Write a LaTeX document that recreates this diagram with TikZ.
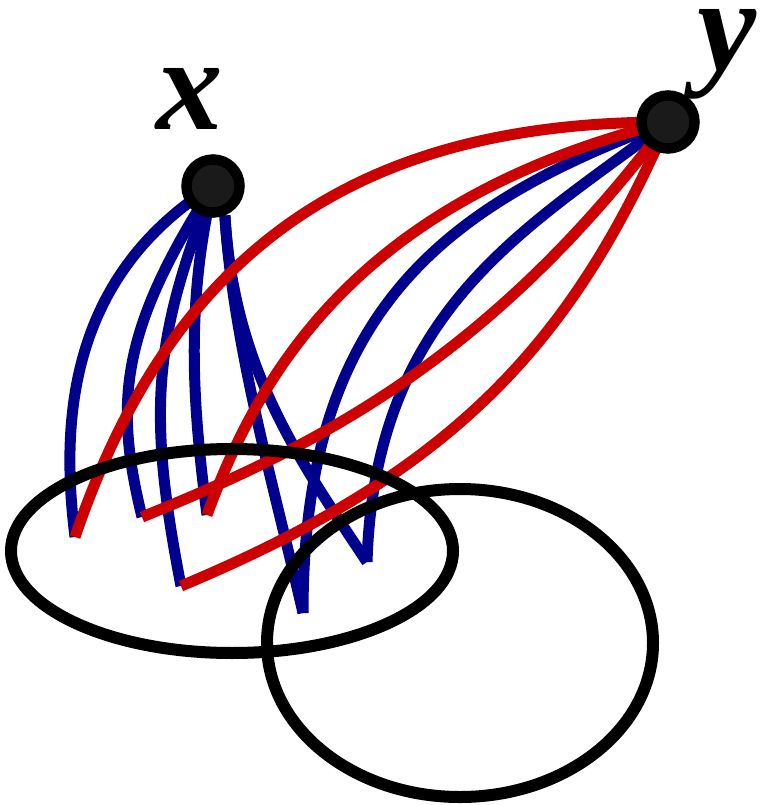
\documentclass[tikz,border=0pt]{standalone}
\usepackage{fontspec}
\setmainfont{Liberation Serif}
\definecolor{eblue}{RGB}{0,0,140}
\definecolor{ered}{RGB}{204,0,0}
\definecolor{vfill}{RGB}{26,26,26}
\pgfdeclarelayer{bg}
\pgfsetlayers{bg,main}
\begin{document}
\begin{tikzpicture}[x=1pt,y=-1pt,
  bluecurve/.style={draw=eblue,line width=11pt},
  redcurve/.style={draw=ered,line width=11pt},
  setline/.style={draw=black,line width=12pt},
  vertex/.style={circle,draw=black,fill=vfill,line width=10.5pt,minimum size=53pt,inner sep=0pt},
  lab/.style={inner sep=0pt,font=\fontsize{133}{133}\selectfont\bfseries\itshape}]
\useasboundingbox (0,0) rectangle (775,805);
% vertices
\node[vertex] (x) at (213,186) {};
\node[vertex] (y) at (668,122) {};
\node[lab,anchor=base] (xl) at (190,130) {x};
\node[lab,anchor=base] (yl) at (727,71) {y};
\coordinate (p1) at (75,537);
\coordinate (p2) at (142,517);
\coordinate (p3) at (181,586);
\coordinate (p4) at (207,515);
\coordinate (p5) at (303,613);
\coordinate (p6) at (367,562);
\begin{pgfonlayer}{bg}
% blue from x
\draw[bluecurve] (x.center) .. controls (63,280) and (62,432) .. (p1);
\draw[bluecurve] (x.center) .. controls (120,331) and (114,402) .. (p2);
\draw[bluecurve] (x.center) .. controls (155,337) and (146,406) .. (p3);
\draw[bluecurve] (x.center) .. controls (185,306) and (193,407) .. (p4);
\draw[bluecurve] (x.-68) .. controls (233,346) and (274,486) .. (p5);
\draw[bluecurve] (x.-68) .. controls (234,366) and (295,454) .. (p6);
% blue from y
\draw[bluecurve] (y.center) .. controls (440,206) and (303,314) .. (p5);
\draw[bluecurve] (y.center) .. controls (526,229) and (375,309) .. (p6);
% red from y
\draw[redcurve] (y.center) .. controls (371,122) and (177,237) .. (p1);
\draw[redcurve] (y.center) .. controls (366,197) and (262,364) .. (p4);
\draw[redcurve] (y.center) .. controls (488,362) and (312,448) .. (p2);
\draw[redcurve] (y.center) .. controls (571,345) and (452,473) .. (p3);
% sets
\draw[setline] (232,551) ellipse [x radius=221, y radius=102];
\draw[setline] (460,643) ellipse [x radius=193, y radius=154];
\end{pgfonlayer}
\end{tikzpicture}
\end{document}
